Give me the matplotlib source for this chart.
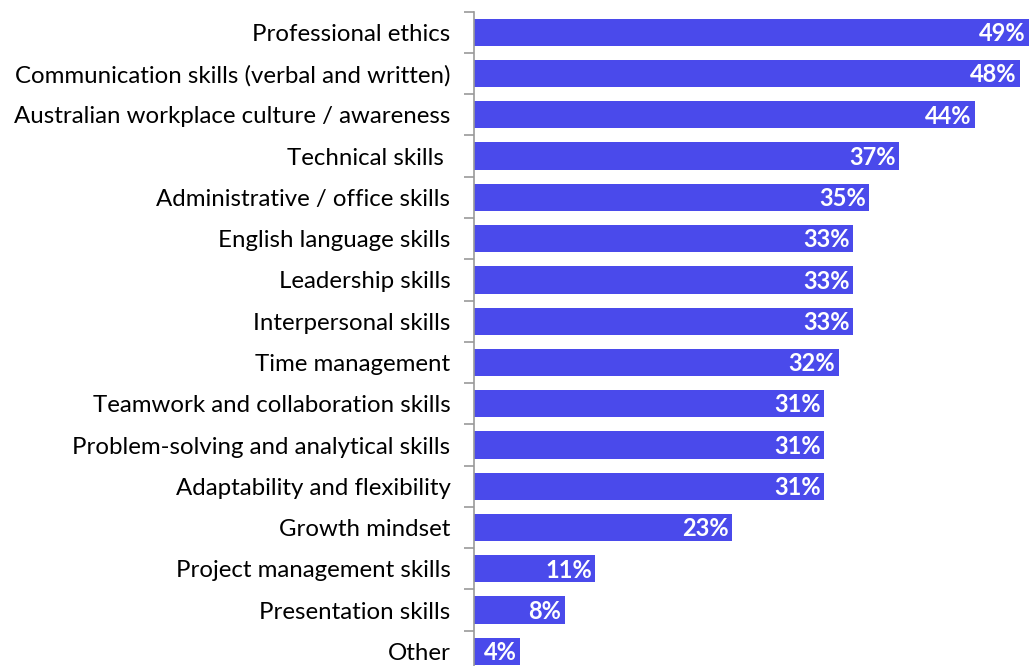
import matplotlib
matplotlib.use('Agg')
import matplotlib.pyplot as plt
import numpy as np

# categories top to bottom
skills = ['Professional ethics', 'Communication skills (verbal and written)',
          'Australian workplace culture / awareness', 'Technical skills ',
          'Administrative / office skills', 'English language skills',
          'Leadership skills', 'Interpersonal skills', 'Time management',
          'Teamwork and collaboration skills', 'Problem-solving and analytical skills',
          'Adaptability and flexibility', 'Growth mindset',
          'Project management skills', 'Presentation skills', 'Other']
values = [49.0, 48.2, 44.2, 37.5, 34.9, 33.5, 33.5, 33.5, 32.2, 30.9, 30.9, 30.9, 22.8, 10.7, 8.0, 4.1]
labels = ['49%', '48%', '44%', '37%', '35%', '33%', '33%', '33%', '32%', '31%', '31%', '31%', '23%', '11%', '8%', '4%']

plt.rcParams['font.family'] = ['Lato', 'DejaVu Sans']
fig = plt.figure(figsize=(10.3, 6.66), dpi=100)
ax = fig.add_axes([0.4602, -0.009, 0.5388, 0.9915])

y = np.arange(len(skills))
ax.barh(y, values, height=0.66, color='#4a4aeb')
for i in range(len(values)):
    ax.text(values[i] - 0.3, y[i] + 0.03, labels[i], ha='right', va='center',
            color='white', fontsize=17, fontweight='bold')

ax.set_ylim(len(skills) - 0.5, -0.5)
ax.set_xlim(0, 49.0)
ax.set_yticks(y)
ax.set_yticklabels(skills, fontsize=17.3)
ax.set_yticks(np.arange(len(skills) + 1) - 0.5, minor=True)
ax.tick_params(axis='y', which='major', length=0, pad=17)
ax.tick_params(axis='y', which='minor', length=7, color='#999999', width=1.2)
ax.set_xticks([])
for s in ['top', 'right', 'bottom']:
    ax.spines[s].set_visible(False)
ax.spines['left'].set_color('#999999')
ax.spines['left'].set_linewidth(1.2)

fig.savefig('out.png', dpi=100)
